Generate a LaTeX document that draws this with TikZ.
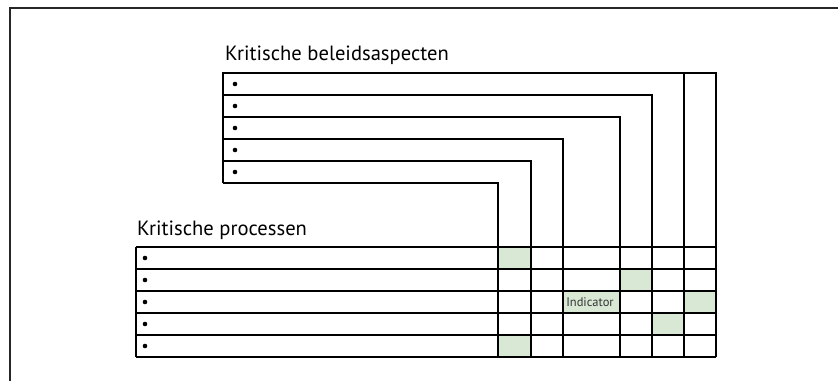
\documentclass[tikz,border=0pt]{standalone}
\usepackage{fontspec}
\setmainfont{PT Sans}
\definecolor{cellgreen}{RGB}{216,232,213}
\begin{document}
\begin{tikzpicture}[x=1pt,y=-1pt,
  rule/.style={line width=1.6pt,black},
  frameline/.style={line width=1.4pt,black!85},
  title/.style={anchor=base west,inner sep=0pt,font=\fontsize{20.6}{24}\selectfont},
  bul/.style={circle,fill=black,inner sep=0pt,minimum size=4.6pt},
  green/.style={fill=cellgreen,draw=none}]
\useasboundingbox (0,0) rectangle (838,381);
% frame
\draw[frameline] (838,8) -- (10,8) -- (10,381);
% titles
\node[title] (tA) at (225,60) {Kritische beleidsaspecten};
\node[title] (tP) at (137,235) {Kritische processen};
% green cells
\fill[green] (498,247) rectangle (531,269);
\fill[green] (620,269) rectangle (652,291);
\fill[green] (563,291) rectangle (620,313);
\fill[green] (684,291) rectangle (716,313);
\fill[green] (652,313) rectangle (684,335);
\fill[green] (498,335) rectangle (531,357);
\node[anchor=center,inner sep=0pt,text=black!80,font=\fontsize{12.5}{14}\selectfont] (ind) at (590,302) {Indicator};
% top table L-lines
\draw[rule] (223,183) -- (223,73) -- (716,73) -- (716,357);
\draw[rule] (684,73) -- (684,357);
\draw[rule] (223,95) -- (652,95) -- (652,357);
\draw[rule] (223,117) -- (620,117) -- (620,357);
\draw[rule] (223,139) -- (563,139) -- (563,357);
\draw[rule] (223,161) -- (531,161) -- (531,357);
\draw[rule] (223,183) -- (498,183) -- (498,357);
% bottom table
\draw[rule] (136,247) -- (136,357);
\foreach \y in {247,269,291,313,335,357} \draw[rule] (136,\y) -- (716,\y);
% bullets
\foreach \y [count=\i] in {84,106,128,150,172} \node[bul] (ba\i) at (235,\y) {};
\foreach \y [count=\i] in {258,280,302,324,346} \node[bul] (bp\i) at (145,\y) {};
\end{tikzpicture}
\end{document}
